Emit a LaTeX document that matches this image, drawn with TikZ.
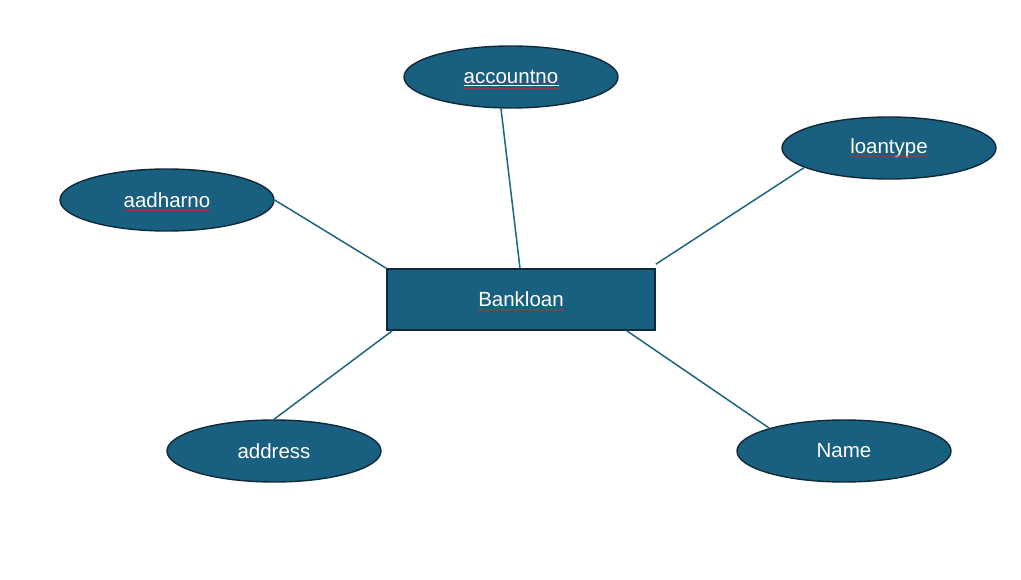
\documentclass[tikz,border=0pt]{standalone}
\usepackage{fontspec}
\setmainfont{Liberation Sans}
\usetikzlibrary{shapes.geometric,decorations.pathmorphing}
\definecolor{erfill}{RGB}{24,95,128}
\definecolor{erborder}{RGB}{14,42,58}
\definecolor{erline}{RGB}{30,100,132}
\definecolor{squig}{RGB}{210,40,40}
\begin{document}
\begin{tikzpicture}[x=1pt,y=-1pt,
  attr/.style={ellipse, draw=erborder, fill=erfill, line width=1.4pt, minimum width=214pt, minimum height=62pt, inner sep=0pt},
  entity/.style={rectangle, draw=erborder, fill=erfill, line width=1.6pt, minimum width=268pt, minimum height=61pt, inner sep=0pt},
  lbl/.style={text=white, inner sep=0pt, font=\fontsize{20.5}{24}\selectfont},
  conn/.style={draw=erline, line width=1.5pt},
  spell/.style={draw=squig, line width=0.6pt, decorate, decoration={snake, segment length=3pt, amplitude=0.7pt}},
  uline/.style={draw=white, line width=1pt}]
\path[use as bounding box, fill=white] (0,0) rectangle (1021,580);

\node[entity] (bank) at (521,299.5) {};
\node[attr] (acc) at (511,77) {};
\node[attr] (lt) at (889,148) {};
\node[attr] (aad) at (167,200) {};
\node[attr] (addr) at (274,451) {};
\node[attr] (nm) at (844,451) {};

\node[lbl] (bankt) at (bank) {Bankloan};
\node[lbl] (acct) at (acc) {accountno};
\node[lbl] (ltt) at (lt) {loantype};
\node[lbl] (aadt) at (aad) {aadharno};
\node[lbl] (addrt) at (addr) {address};
\node[lbl] (nmt) at (nm) {Name};

\draw[uline] ([yshift=-2pt]acct.base west) -- ([yshift=-2pt]acct.base east);
\draw[spell] ([yshift=-5pt]acct.base west) -- ([yshift=-5pt]acct.base east);
\draw[spell] ([yshift=-3pt]bankt.base west) -- ([yshift=-3pt]bankt.base east);
\draw[spell] ([yshift=-3pt]ltt.base west) -- ([yshift=-3pt]ltt.base east);
\draw[spell] ([yshift=-3pt]aadt.base west) -- ([yshift=-3pt]aadt.base east);

\draw[conn] ([xshift=-10pt]acc.south) -- ([xshift=-1pt]bank.north);
\draw[conn] (lt.193) -- ([yshift=4pt]bank.north east);
\draw[conn] (aad.east) -- (bank.north west);
\draw[conn] (addr.north) -- ([xshift=6pt]bank.south west);
\draw[conn] (nm.163) -- ([xshift=-29pt]bank.south east);
\end{tikzpicture}
\end{document}
